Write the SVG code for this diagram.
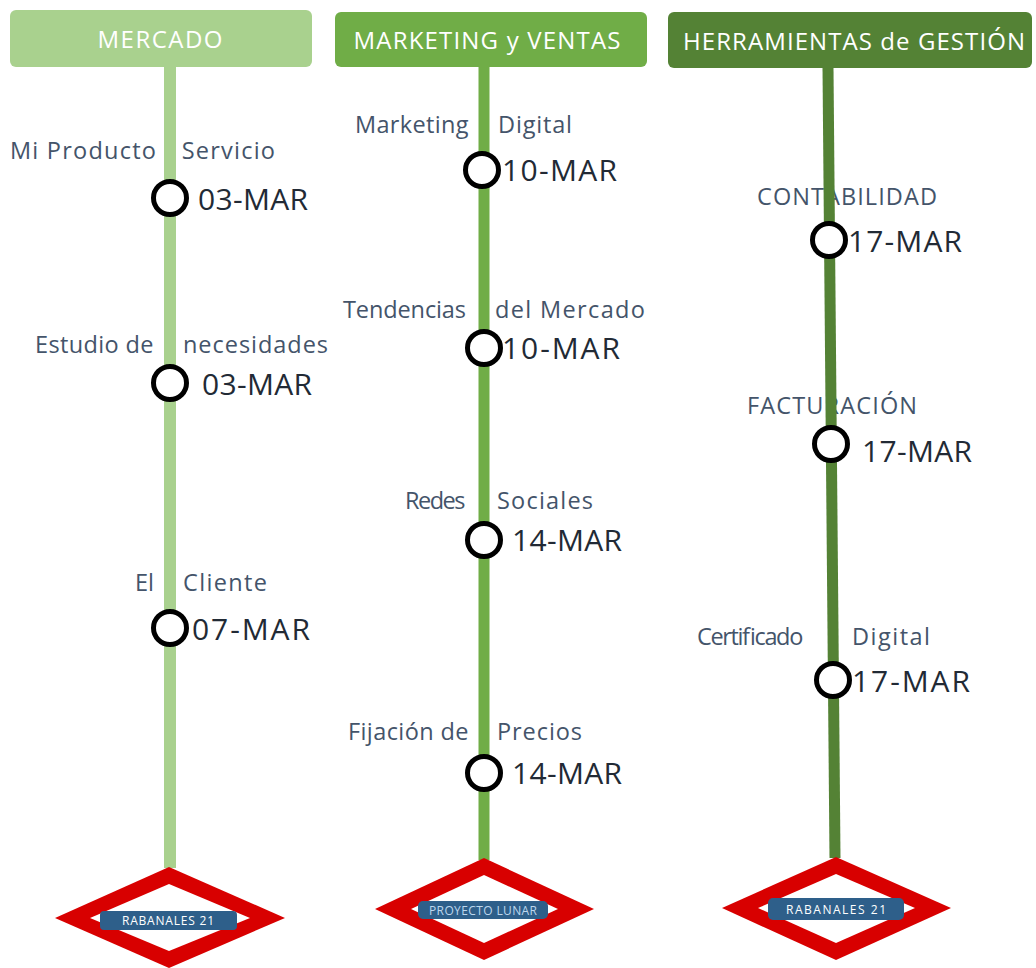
<svg xmlns="http://www.w3.org/2000/svg" width="1036" height="968" viewBox="0 0 1036 968">
<style>
.hdr{font-family:"Open Sans","Liberation Sans",sans-serif;font-size:24px;fill:#ffffff;text-anchor:middle}
.lbl{font-family:"Open Sans","Liberation Sans",sans-serif;font-size:23.5px;fill:#44546a}
.date{font-family:"Open Sans","Liberation Sans",sans-serif;font-size:30px;fill:#222a35}
.stop{fill:#ffffff;stroke:#000000;stroke-width:5}
.red{fill:#d80000}
.inner{fill:#ffffff}
.plate{fill:#2e5f8a}
.ptxt{font-family:"Open Sans","Liberation Sans",sans-serif;font-size:12px;fill:#ffffff;text-anchor:middle}
</style>
<rect width="1036" height="968" fill="#ffffff"/>

<g id="header-mercado">
<rect x="10" y="10" width="302" height="57" rx="6" fill="#a9d18e"/>
<text class="hdr" x="160" y="48" textLength="125">MERCADO</text>
</g>
<g id="header-marketing">
<rect x="335" y="12" width="312" height="55" rx="6" fill="#70ad47"/>
<text class="hdr" x="487" y="49" textLength="267">MARKETING y VENTAS</text>
</g>
<g id="header-herramientas">
<rect x="668" y="12" width="364" height="56" rx="6" fill="#548235"/>
<text class="hdr" x="854" y="50" textLength="342">HERRAMIENTAS de GESTIÓN</text>
</g>

<g id="labels">
<text class="lbl" x="10" y="159" textLength="265">Mi Producto / Servicio</text>
<text class="lbl" y="353"><tspan x="35" textLength="125">Estudio de </tspan><tspan x="183" textLength="145">necesidades</tspan></text>
<text class="lbl" y="591"><tspan x="135" textLength="25">El </tspan><tspan x="183" textLength="84">Cliente</tspan></text>

<text class="lbl" y="133"><tspan x="355" textLength="120">Marketing </tspan><tspan x="498" textLength="74">Digital</tspan></text>
<text class="lbl" y="318"><tspan x="343" textLength="129">Tendencias </tspan><tspan x="495" textLength="150">del Mercado</tspan></text>
<text class="lbl" y="509"><tspan x="405" textLength="65">Redes </tspan><tspan x="497" textLength="96">Sociales</tspan></text>
<text class="lbl" y="740"><tspan x="348" textLength="127">Fijación de </tspan><tspan x="497" textLength="85">Precios</tspan></text>

<text class="lbl" x="757" y="205" textLength="180">CONTABILIDAD</text>
<text class="lbl" x="747" y="414" textLength="170">FACTURACIÓN</text>
<text class="lbl" y="645"><tspan x="697" textLength="111">Certificado </tspan><tspan x="852" textLength="78">Digital</tspan></text>
</g>

<g id="connectors">
<line x1="170" y1="67" x2="170" y2="868" stroke="#a9d18e" stroke-width="12"/>
<line x1="484" y1="67" x2="484" y2="860" stroke="#70ad47" stroke-width="11"/>
<line x1="828" y1="68" x2="835" y2="858" stroke="#548235" stroke-width="11"/>
</g>

<g id="col1-stops">
<circle class="stop" cx="170" cy="198" r="16.5"/>
<text class="date" x="198" y="210" textLength="110">03-MAR</text>
<circle class="stop" cx="170" cy="383" r="16.5"/>
<text class="date" x="202" y="395" textLength="110">03-MAR</text>
<circle class="stop" cx="170" cy="628" r="16.5"/>
<text class="date" x="192" y="640" textLength="118">07-MAR</text>
</g>

<g id="col2-stops">
<circle class="stop" cx="482" cy="170" r="16.5"/>
<text class="date" x="502" y="181" textLength="115">10-MAR</text>
<circle class="stop" cx="484" cy="348" r="16.5"/>
<text class="date" x="502" y="359" textLength="118">10-MAR</text>
<circle class="stop" cx="484" cy="540" r="16.5"/>
<text class="date" x="512" y="551" textLength="110">14-MAR</text>
<circle class="stop" cx="484" cy="773" r="16.5"/>
<text class="date" x="512" y="784" textLength="110">14-MAR</text>
</g>

<g id="col3-stops">
<circle class="stop" cx="829" cy="240" r="16.5"/>
<text class="date" x="848" y="252" textLength="114">17-MAR</text>
<circle class="stop" cx="831" cy="444" r="16.5"/>
<text class="date" x="862" y="462" textLength="110">17-MAR</text>
<circle class="stop" cx="833" cy="680" r="16.5"/>
<text class="date" x="852" y="692" textLength="118">17-MAR</text>
</g>

<g id="station-rabanales-1">
<polygon class="red" points="169,867 285,918 169,968 55,918"/>
<polygon class="inner" points="169,884 250,918 169,951 90,918"/>
<rect class="plate" x="100" y="911" width="137" height="19" rx="4"/>
<text class="ptxt" x="168" y="925" textLength="92">RABANALES 21</text>
</g>

<g id="station-proyecto-lunar">
<polygon class="red" points="484,858 594,909 484,960 375,909"/>
<polygon class="inner" points="484,875 558,909 484,943 411,909"/>
<rect class="plate" x="418" y="901" width="130" height="18" rx="5"/>
<text class="ptxt" x="483" y="914.5" textLength="108" style="fill:#bdd7ee">PROYECTO LUNAR</text>
</g>

<g id="station-rabanales-2">
<polygon class="red" points="836,857 951,908 836,960 722,908"/>
<polygon class="inner" points="836,874 915,908 836,943 758,908"/>
<rect class="plate" x="768" y="898" width="136" height="22" rx="5"/>
<text class="ptxt" x="836" y="913.5" textLength="100">RABANALES 21</text>
</g>
</svg>
